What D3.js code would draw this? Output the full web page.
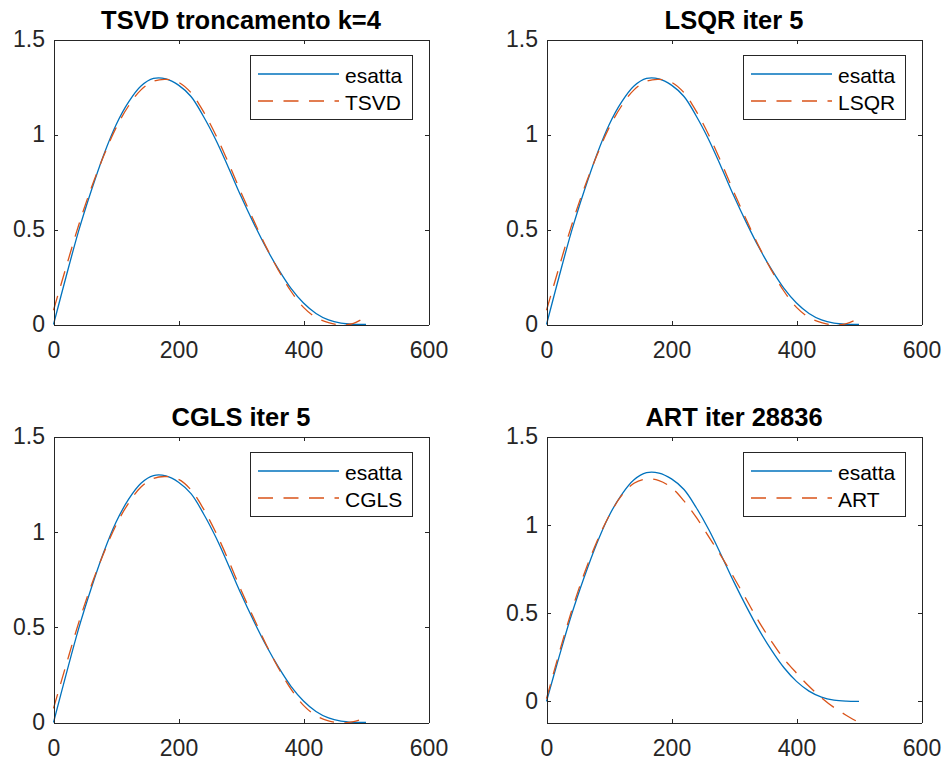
<!DOCTYPE html>
<html><head><meta charset="utf-8">
<script src="https://cdn.jsdelivr.net/npm/d3@7"></script>
<style>body{margin:0;background:#fff}svg{display:block}</style>
</head><body><svg id="chart" width="944" height="766"></svg>
<script>
const xValues = [0,20,40,60,80,100,120,140,160,180,200,220,240,260,280,300,320,340,360,380,400,420,440,460,480,500];
const esatta = [0,0.25,0.49,0.70,0.89,1.05,1.17,1.255,1.295,1.293,1.26,1.20,1.095,0.97,0.825,0.675,0.535,0.405,0.29,0.19,0.113,0.058,0.024,0.007,0.001,0];
const tsvd   = [0.075,0.30,0.52,0.715,0.885,1.035,1.15,1.235,1.28,1.29,1.275,1.22,1.12,0.995,0.85,0.695,0.55,0.41,0.285,0.175,0.09,0.037,0.01,-0.002,0.006,0.04];
const lsqr   = [0.075,0.30,0.52,0.715,0.885,1.035,1.15,1.235,1.28,1.29,1.275,1.22,1.12,0.995,0.85,0.695,0.55,0.41,0.285,0.175,0.09,0.037,0.01,-0.002,0.005,0.033];
const cgls   = [0.074,0.30,0.52,0.715,0.885,1.035,1.15,1.235,1.28,1.29,1.275,1.22,1.12,0.995,0.85,0.695,0.55,0.41,0.285,0.175,0.09,0.036,0.009,-0.002,0.004,0.027];
const art    = [0.015,0.27,0.51,0.72,0.90,1.05,1.165,1.235,1.26,1.25,1.21,1.135,1.04,0.93,0.82,0.70,0.575,0.45,0.34,0.24,0.16,0.085,0.02,-0.035,-0.08,-0.12];
const titles = ["TSVD troncamento k=4","LSQR iter 5","CGLS iter 5","ART iter 28836"];
const exactLabel = "esatta";
const approxLabels = ["TSVD","LSQR","CGLS","ART"];
const approxSeries = [tsvd, lsqr, cgls, art];
const xTicks = [0,200,400,600];
const yTicks = [0,0.5,1,1.5];
const yMins = [0,0,0,-0.12];

const panels = [
  {x:53.5, y:39.5, w:375, h:285},
  {x:546.5, y:39.5, w:375, h:285},
  {x:53.5, y:436.5, w:375, h:286},
  {x:546.5, y:436.5, w:375, h:286}
];
const BLUE = "#0072BD", ORANGE = "#D95319", AX = "#262626";
const FONT = "'Liberation Sans', Arial, Helvetica, sans-serif";
const svg = d3.select("#chart");

panels.forEach((p, i) => {
  const g = svg.append("g").attr("transform", `translate(${p.x},${p.y})`);
  const x = d3.scaleLinear().domain([0,600]).range([0,p.w]);
  const y = d3.scaleLinear().domain([yMins[i],1.5]).range([p.h,0]);

  const line = d3.line().x((d,k)=>x(xValues[k])).y(d=>y(d)).curve(d3.curveCatmullRom.alpha(0.5));
  g.append("path").attr("d", line(esatta)).attr("fill","none").attr("stroke",BLUE).attr("stroke-width",1.3);
  g.append("path").attr("d", line(approxSeries[i])).attr("fill","none").attr("stroke",ORANGE)
    .attr("stroke-width",1.3).attr("stroke-dasharray","15,10.5");

  const styleAxis = sel => {
    sel.selectAll("path.domain").attr("stroke",AX).attr("stroke-width",1).attr("shape-rendering","crispEdges");
    sel.selectAll(".tick line").attr("stroke",AX).attr("stroke-width",1).attr("shape-rendering","crispEdges");
    sel.selectAll(".tick text").attr("fill",AX).style("font-family",FONT).style("font-size","23px");
  };
  g.append("g").attr("transform",`translate(0,${p.h})`)
    .call(d3.axisBottom(x).tickValues(xTicks).tickSizeInner(-4).tickSizeOuter(0).tickPadding(17).tickFormat(d3.format("d")))
    .call(styleAxis);
  g.append("g")
    .call(d3.axisLeft(y).tickValues(yTicks).tickSizeInner(-4).tickSizeOuter(0).tickPadding(8.5).tickFormat(d=>String(d)))
    .call(styleAxis);
  g.append("g")
    .call(d3.axisTop(x).tickValues(xTicks).tickSizeInner(-4).tickSizeOuter(0).tickFormat(""))
    .call(styleAxis);
  g.append("g").attr("transform",`translate(${p.w},0)`)
    .call(d3.axisRight(y).tickValues(yTicks).tickSizeInner(-4).tickSizeOuter(0).tickFormat(""))
    .call(styleAxis);

  g.append("text").attr("x",p.w/2).attr("y",-10.5).attr("text-anchor","middle")
    .style("font-family",FONT).style("font-size","25.5px").style("font-weight","bold").attr("fill","#000")
    .text(titles[i]);

  // legend
  const lw = 162, lh = 64;
  const lx = p.w - 16 - lw, ly = 16;
  const lg = g.append("g").attr("transform",`translate(${lx},${ly})`);
  lg.append("rect").attr("x",0).attr("y",0).attr("width",lw).attr("height",lh)
    .attr("fill","#fff").attr("stroke",AX).attr("stroke-width",1).attr("shape-rendering","crispEdges");
  const rows = [{label:exactLabel,color:BLUE,dash:null,cy:18.5},{label:approxLabels[i],color:ORANGE,dash:"15,10.5",cy:45.5}];
  rows.forEach(r => {
    const l = lg.append("line").attr("x1",7.5).attr("x2",88.5).attr("y1",r.cy).attr("y2",r.cy)
      .attr("stroke",r.color).attr("stroke-width",1.3);
    if (r.dash) l.attr("stroke-dasharray",r.dash);
    lg.append("text").attr("x",94.5).attr("y",r.cy+8.5).attr("fill","#000")
      .style("font-family",FONT).style("font-size","21px").text(r.label);
  });
});
</script>
</body></html>
